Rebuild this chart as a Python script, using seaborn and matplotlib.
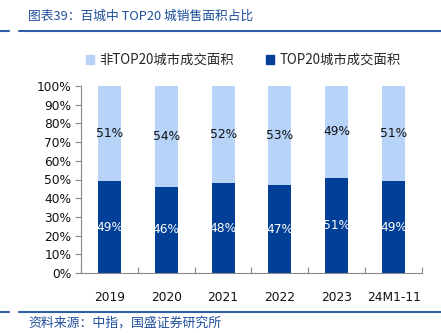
import matplotlib
matplotlib.use("Agg")
import matplotlib.pyplot as plt
import seaborn as sns
import pandas as pd
from matplotlib.lines import Line2D
from matplotlib.patches import Rectangle

categories = ["2019", "2020", "2021", "2022", "2023", "24M1-11"]
top20 = [49, 46, 48, 47, 51, 49]
non_top20 = [51, 54, 52, 53, 49, 51]
yticks = [0, 10, 20, 30, 40, 50, 60, 70, 80, 90, 100]
title_text = "图表39：百城中 TOP20 城销售面积占比"
source_text = "资料来源：中指，国盛证券研究所"
label_non = "非TOP20城市成交面积"
label_top = "TOP20城市成交面积"

dark = "#023F96"
light = "#B7D3F8"
line_blue = "#2F5FA7"

sns.set_theme(style="white")
plt.rcParams['font.family'] = ['Noto Sans CJK SC', 'DejaVu Sans']

df = pd.DataFrame({"cat": categories, "top": top20, "non": non_top20})
df["total"] = df["top"] + df["non"]

fig = plt.figure(figsize=(4.41, 3.33), dpi=100)
ax = fig.add_axes([81/441, 60/333, (422-81)/441, (273-86)/333])

sns.barplot(data=df, x="cat", y="total", color=light, width=0.405, ax=ax,
            saturation=1, edgecolor="none")
sns.barplot(data=df, x="cat", y="top", color=dark, width=0.405, ax=ax,
            saturation=1, edgecolor="none")

for i, (t, n) in enumerate(zip(top20, non_top20)):
    ax.text(i, t / 2, f"{t}%", ha="center", va="center", color="white",
            fontsize=8.8, family="DejaVu Sans")
    ax.text(i, t + n / 2, f"{n}%", ha="center", va="center", color="#111111",
            fontsize=8.8, family="DejaVu Sans")

ax.set_xlim(-0.5, 5.5)
ax.set_ylim(0, 100)
ax.set_yticks(yticks)
ax.set_yticklabels([f"{v}%" for v in yticks], fontsize=8.8, family="DejaVu Sans",
                   color="#111111")
ax.set_xticks(range(len(categories)))
ax.set_xticklabels(categories, fontsize=8.8, family="DejaVu Sans", color="#111111")
ax.set_xlabel("")
ax.set_ylabel("")

for s in ["top", "right"]:
    ax.spines[s].set_visible(False)
for s in ["left", "bottom"]:
    ax.spines[s].set_color("#888888")
    ax.spines[s].set_linewidth(0.8)

ax.tick_params(axis="y", which="major", left=True, length=4, width=0.8,
               color="#888888", pad=3)
ax.tick_params(axis="x", which="major", bottom=False, pad=7)
ax.set_xticks([i + 0.5 for i in range(-1, len(categories))], minor=True)
ax.tick_params(axis="x", which="minor", bottom=True, length=4, width=0.8,
               color="#888888", direction="in")

# legend
handles = [Rectangle((0, 0), 1, 1, color=light), Rectangle((0, 0), 1, 1, color=dark)]
fig.legend(handles, [label_non, label_top], loc="center left",
           bbox_to_anchor=(74/441, 1 - 60/333),
           ncol=2, frameon=False, fontsize=9.6, handlelength=0.6, handleheight=0.6,
           handletextpad=0.4, columnspacing=2.4)

# title and lines
fig.text(28/441, 1 - 16/333, title_text, color="#1F4E9A", fontsize=9.2,
         ha="left", va="center", style="italic")
for y in [31, 312]:
    fig.add_artist(Line2D([0, 9/441], [1 - y/333] * 2, color=line_blue, lw=1.5))
    fig.add_artist(Line2D([19/441, 1], [1 - y/333] * 2, color=line_blue, lw=1.5))
fig.text(28/441, 1 - 323/333, source_text, color="#1F4E9A", fontsize=9.3,
         ha="left", va="center", style="italic")

fig.savefig("out.png", dpi=100)
